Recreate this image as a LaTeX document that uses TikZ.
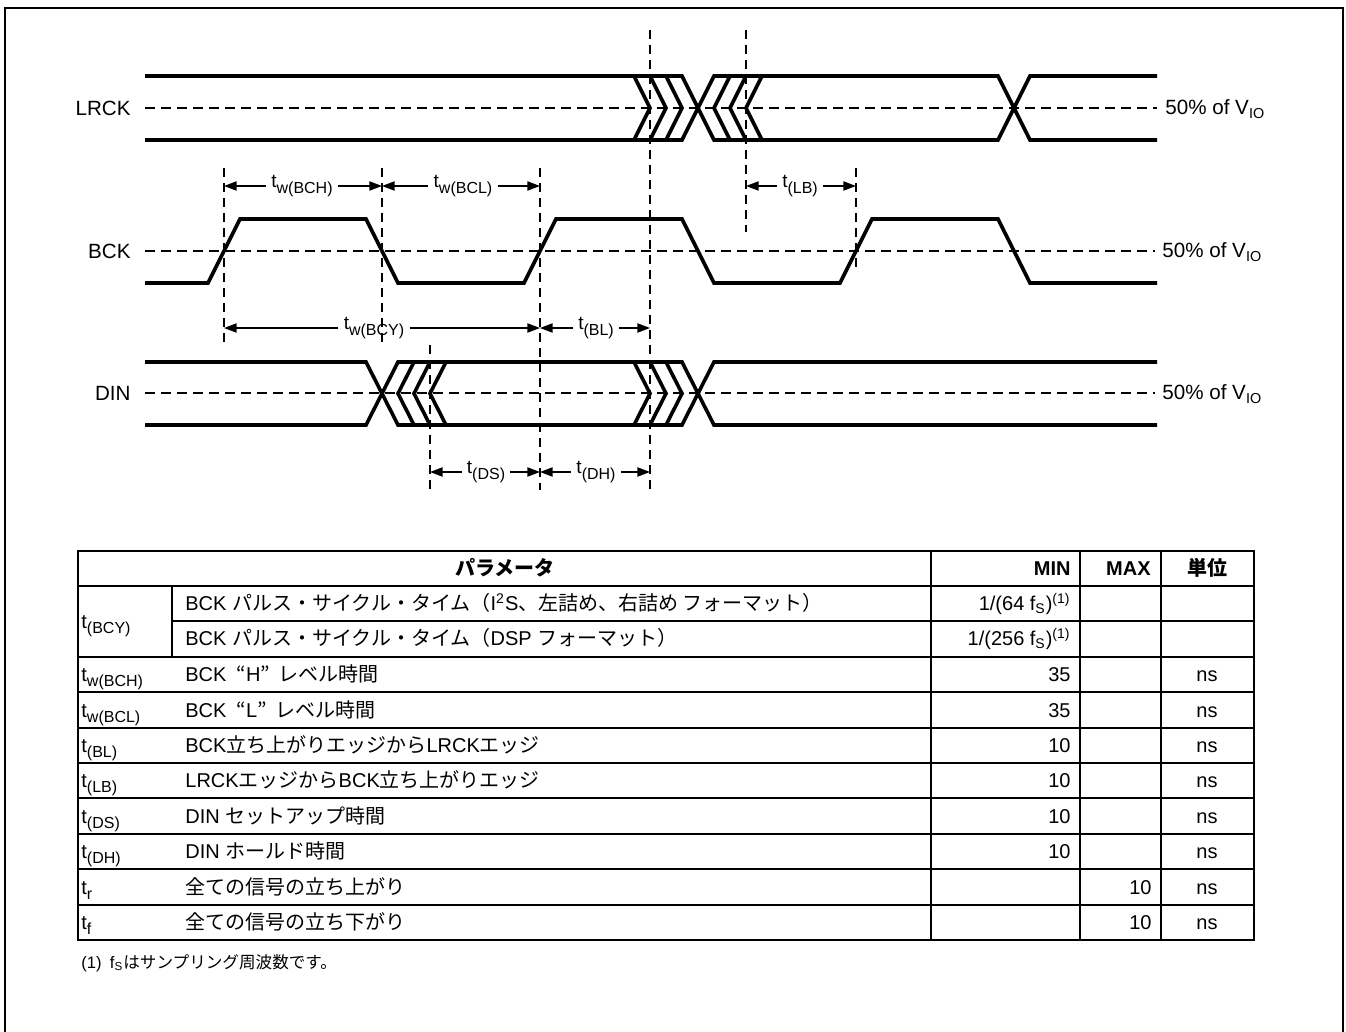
\documentclass[tikz,border=0pt]{standalone}
\usepackage{fontspec}
\setmainfont{Liberation Sans}
\newfontfamily\jp{Noto Sans CJK JP}
\usetikzlibrary{arrows.meta}

% t with a large, dropped subscript (optional arg: subscript size)
\newcommand\tsym[2][8]{t\raisebox{-2.6pt}{\fontsize{#1}{#1}\selectfont #2}}

\begin{document}
\begin{tikzpicture}[x=0.5pt, y=-0.5pt,
  sig/.style={line width=1.8pt},
  midline/.style={line width=0.65pt, dash pattern=on 5pt off 3pt},
  guide/.style={line width=0.65pt, dash pattern=on 4.5pt off 3pt},
  dim/.style={line width=0.65pt, -{Triangle[length=6.3pt, width=4.6pt]}},
  dimlbl/.style={font=\fontsize{9.5}{11}\selectfont, inner sep=2.5pt},
  siglbl/.style={font=\fontsize{10.3}{12}\selectfont, inner sep=0pt},
  cell/.style={font=\fontsize{10}{12}\selectfont, inner sep=0pt},
  rule/.style={line width=0.6pt}]

\useasboundingbox (0,0) rectangle (1346,1032);

% Frame
\draw[line width=1.2pt] (5,1040) -- (5,8) -- (1343,8) -- (1343,1040);

% Signal names and 50% levels
\node[siglbl, anchor=east] (lrck) at (131,108) {LRCK};
\node[siglbl, anchor=east] (bck) at (131,251) {BCK};
\node[siglbl, anchor=east] (din) at (131,393) {DIN};
\node[siglbl, anchor=base west] (lrckv) at (1165,115) {50\% of V\textsubscript{IO}};
\node[siglbl, anchor=base west] (bckv) at (1162,258) {50\% of V\textsubscript{IO}};
\node[siglbl, anchor=base west] (dinv) at (1162,400) {50\% of V\textsubscript{IO}};
\coordinate (lm0) at (145,108);  \coordinate (lm1) at (1157,108);
\coordinate (bm0) at (145,251);  \coordinate (bm1) at (1155,251);
\coordinate (dm0) at (145,393);  \coordinate (dm1) at (1155,393);
\draw[midline] (lm0) -- (lm1);
\draw[midline] (bm0) -- (bm1);
\draw[midline] (dm0) -- (dm1);

% LRCK
\draw[sig] (145,76) -- (682,76) -- (714,140) -- (998,140) -- (1030,76) -- (1157,76);
\draw[sig] (145,140) -- (682,140) -- (714,76) -- (998,76) -- (1030,140) -- (1157,140);
\foreach \k in {1,2,3} {
  \draw[sig] ({698-16*(\k+1)},76) -- ({698-16*\k},108) -- ({698-16*(\k+1)},140);
  \draw[sig] ({698+16*(\k+1)},76) -- ({698+16*\k},108) -- ({698+16*(\k+1)},140);
}

% BCK
\draw[sig] (145,283) -- (208,283) -- (240,219) -- (366,219) -- (398,283) -- (524,283)
  -- (556,219) -- (682,219) -- (714,283) -- (840,283) -- (872,219) -- (998,219)
  -- (1030,283) -- (1157,283);

% DIN
\draw[sig] (145,362) -- (366,362) -- (398,425) -- (682,425) -- (714,362) -- (1157,362);
\draw[sig] (145,425) -- (366,425) -- (398,362) -- (682,362) -- (714,425) -- (1157,425);
\foreach \k in {1,2,3} {
  \draw[sig] ({382+16*(\k+1)},362) -- ({382+16*\k},393.5) -- ({382+16*(\k+1)},425);
  \draw[sig] ({698-16*(\k+1)},362) -- ({698-16*\k},393.5) -- ({698-16*(\k+1)},425);
}

% Guide lines
\draw[guide] (224,168) -- (224,342);
\draw[guide] (382,168) -- (382,342);
\draw[guide] (540,168) -- (540,490);
\draw[guide] (430,345) -- (430,490);
\draw[guide] (650,30) -- (650,490);
\draw[guide] (746,30) -- (746,232);
\draw[guide] (856,168) -- (856,270);

% Timing arrows
\coordinate (a224u) at (224,186);  \coordinate (a382u) at (382,186);
\coordinate (a540u) at (540,186);  \coordinate (a746u) at (746,186);
\coordinate (a856u) at (856,186);
\coordinate (a224m) at (224,328);  \coordinate (a540m) at (540,328);
\coordinate (a650m) at (650,328);
\coordinate (a430l) at (430,472);  \coordinate (a540l) at (540,472);
\coordinate (a650l) at (650,472);

\node[dimlbl] (twbch) at (302,186) {\tsym{w(BCH)}};
\draw[dim] (twbch) -- (a224u);
\draw[dim] (twbch) -- (a382u);
\node[dimlbl] (twbcl) at (463,186) {\tsym{w(BCL)}};
\draw[dim] (twbcl) -- (a382u);
\draw[dim] (twbcl) -- (a540u);
\node[dimlbl] (tlb) at (800,186) {\tsym{(LB)}};
\draw[dim] (tlb) -- (a746u);
\draw[dim] (tlb) -- (a856u);
\node[dimlbl] (twbcy) at (374,328) {\tsym{w(BCY)}};
\draw[dim] (twbcy) -- (a224m);
\draw[dim] (twbcy) -- (a540m);
\node[dimlbl] (tbl) at (596,328) {\tsym{(BL)}};
\draw[dim] (tbl) -- (a540m);
\draw[dim] (tbl) -- (a650m);
\node[dimlbl] (tds) at (486,472) {\tsym{(DS)}};
\draw[dim] (tds) -- (a430l);
\draw[dim] (tds) -- (a540l);
\node[dimlbl] (tdh) at (596,472) {\tsym{(DH)}};
\draw[dim] (tdh) -- (a540l);
\draw[dim] (tdh) -- (a650l);

% Table grid
\draw[line width=1.1pt] (78,551) rectangle (1254,940);
\foreach \y in {586,657,692,728,763,798,834,869,905}
  \draw[rule] (78,\y) -- (1254,\y);
\draw[rule] (172,621) -- (1254,621);
\draw[rule] (172,586) -- (172,657);
\foreach \x in {931,1080,1161}
  \draw[rule] (\x,551) -- (\x,940);

% Header
\node[cell, anchor=base] (hpar) at (505,575.5) {\jp\bfseries パラメータ};
\node[cell, anchor=base east] (hmin) at (1071,575.5) {\bfseries MIN};
\node[cell, anchor=base east] (hmax) at (1151,575.5) {\bfseries MAX};
\node[cell, anchor=base] (hunit) at (1207,575.5) {\jp\bfseries 単位};

% Rows
\node[cell, anchor=base west] (s1) at (81,628) {\tsym{(BCY)}};
\node[cell, anchor=base west] (d1) at (185,610.5) {BCK {\jp パルス・サイクル・タイム（}I\textsuperscript{2}S{\jp 、左詰め、右詰め フォーマット）}};
\node[cell, anchor=base east] (m1) at (1071,610.5) {1/(64 f\textsubscript{S})\textsuperscript{(1)}};
\node[cell, anchor=base west] (d2) at (185,646) {BCK {\jp パルス・サイクル・タイム（}DSP {\jp フォーマット）}};
\node[cell, anchor=base east] (m2) at (1071,646) {1/(256 f\textsubscript{S})\textsuperscript{(1)}};

\node[cell, anchor=base west] (s3) at (81,681.5) {\tsym{w(BCH)}};
\node[cell, anchor=base west] (d3) at (185,681.5) {BCK\hspace{0.5em}{\jp “}H{\jp ”}\hspace{0.45em}{\jp レベル時間}};
\node[cell, anchor=base east] (m3) at (1071,681.5) {35};
\node[cell, anchor=base] (u3) at (1207,681.5) {ns};

\node[cell, anchor=base west] (s4) at (81,717) {\tsym{w(BCL)}};
\node[cell, anchor=base west] (d4) at (185,717) {BCK\hspace{0.5em}{\jp “}L{\jp ”}\hspace{0.45em}{\jp レベル時間}};
\node[cell, anchor=base east] (m4) at (1071,717) {35};
\node[cell, anchor=base] (u4) at (1207,717) {ns};

\node[cell, anchor=base west] (s5) at (81,752.5) {\tsym{(BL)}};
\node[cell, anchor=base west] (d5) at (185,752.5) {BCK{\jp 立ち上がりエッジから}LRCK{\jp エッジ}};
\node[cell, anchor=base east] (m5) at (1071,752.5) {10};
\node[cell, anchor=base] (u5) at (1207,752.5) {ns};

\node[cell, anchor=base west] (s6) at (81,787.5) {\tsym{(LB)}};
\node[cell, anchor=base west] (d6) at (185,787.5) {LRCK{\jp エッジから}BCK{\jp 立ち上がりエッジ}};
\node[cell, anchor=base east] (m6) at (1071,787.5) {10};
\node[cell, anchor=base] (u6) at (1207,787.5) {ns};

\node[cell, anchor=base west] (s7) at (81,823) {\tsym{(DS)}};
\node[cell, anchor=base west] (d7) at (185,823) {DIN {\jp セットアップ時間}};
\node[cell, anchor=base east] (m7) at (1071,823) {10};
\node[cell, anchor=base] (u7) at (1207,823) {ns};

\node[cell, anchor=base west] (s8) at (81,858.5) {\tsym{(DH)}};
\node[cell, anchor=base west] (d8) at (185,858.5) {DIN {\jp ホールド時間}};
\node[cell, anchor=base east] (m8) at (1071,858.5) {10};
\node[cell, anchor=base] (u8) at (1207,858.5) {ns};

\node[cell, anchor=base west] (s9) at (81,894) {\tsym{r}};
\node[cell, anchor=base west] (d9) at (185,894) {\jp 全ての信号の立ち上がり};
\node[cell, anchor=base east] (x9) at (1152,894) {10};
\node[cell, anchor=base] (u9) at (1207,894) {ns};

\node[cell, anchor=base west] (s10) at (81,929.5) {\tsym{f}};
\node[cell, anchor=base west] (d10) at (185,929.5) {\jp 全ての信号の立ち下がり};
\node[cell, anchor=base east] (x10) at (1152,929.5) {10};
\node[cell, anchor=base] (u10) at (1207,929.5) {ns};

% Footnote
\node[anchor=base west, inner sep=0pt, font=\fontsize{8.3}{10}\selectfont] (fn) at (81,968)
  {(1)\enspace f\textsubscript{S}{\jp はサンプリング周波数です。}};

\end{tikzpicture}
\end{document}
